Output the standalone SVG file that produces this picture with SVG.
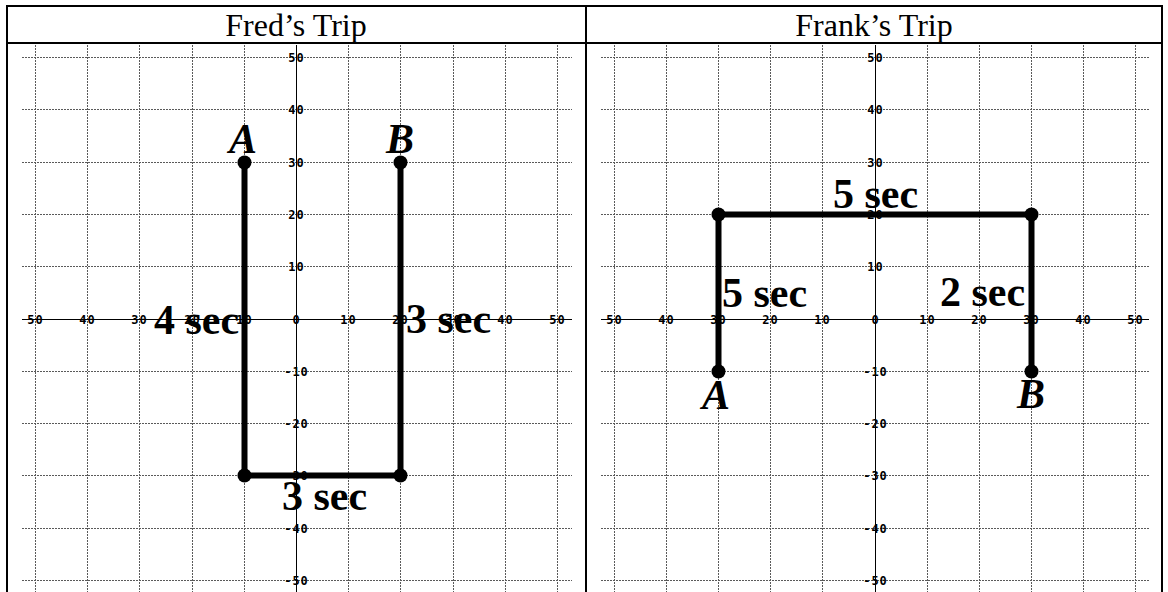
<svg xmlns="http://www.w3.org/2000/svg" width="1168" height="592" viewBox="0 0 1168 592">
<style>
.grid{stroke:#5a5a5a;stroke-width:1;stroke-dasharray:2 1;fill:none}
.axis{stroke:#000;stroke-width:1;fill:none}
.border{stroke:#000;stroke-width:2;fill:none}
.path{stroke:#000;stroke-width:6;fill:none;stroke-linejoin:miter}
.dot{fill:#000}
.tick{font-family:"DejaVu Sans Mono","Liberation Mono",monospace;font-weight:bold;font-size:12px;fill:#000;text-anchor:middle;letter-spacing:1px}
.head{font-family:"Liberation Serif","Times New Roman",serif;font-size:32px;fill:#000;text-anchor:middle}
.sec{font-family:"Liberation Serif","Times New Roman",serif;font-weight:bold;font-size:42px;fill:#000}
.pt{font-family:"Liberation Serif","Times New Roman",serif;font-weight:bold;font-style:italic;font-size:42px;fill:#000;text-anchor:middle}
</style>
<rect width="1168" height="592" fill="#fff"/>
<g id="table">
<line class="border" x1="6" y1="6" x2="1163" y2="6"/>
<line class="border" x1="6" y1="43" x2="1163" y2="43"/>
<line class="border" x1="7" y1="5" x2="7" y2="592"/>
<line class="border" x1="586" y1="5" x2="586" y2="592"/>
<line class="border" x1="1162" y1="5" x2="1162" y2="592"/>
<text class="head" x="296" y="36">Fred’s Trip</text>
<text class="head" x="874" y="36">Frank’s Trip</text>
</g>
<g id="fred-grid">
<g class="grid">
<path d="M35.5 45V592M87.5 45V592M139.5 45V592M192.5 45V592M244.5 45V592M348.5 45V592M400.5 45V592M453.5 45V592M505.5 45V592M557.5 45V592"/>
<path d="M22 57.5H572M22 109.5H572M22 162.5H572M22 214.5H572M22 266.5H572M22 371.5H572M22 423.5H572M22 475.5H572M22 528.5H572M22 580.5H572"/>
</g>
<path class="axis" d="M22 319.5H572M296.5 45V592"/>
<g class="tick">
<text x="35.5" y="324">50</text><text x="87.5" y="324">40</text><text x="139.5" y="324">30</text><text x="192.5" y="324">20</text><text x="244.5" y="324">10</text><text x="296.5" y="324">0</text><text x="348.5" y="324">10</text><text x="400.5" y="324">20</text><text x="453.5" y="324">30</text><text x="505.5" y="324">40</text><text x="557.5" y="324">50</text>
<text x="296.5" y="62">50</text><text x="296.5" y="114">40</text><text x="296.5" y="167">30</text><text x="296.5" y="219">20</text><text x="296.5" y="271">10</text><text x="296.5" y="376">-10</text><text x="296.5" y="428">-20</text><text x="296.5" y="480">-30</text><text x="296.5" y="533">-40</text><text x="296.5" y="585">-50</text>
</g>
</g>
<g id="frank-grid">
<g class="grid">
<path d="M614.5 45V592M666.5 45V592M718.5 45V592M770.5 45V592M822.5 45V592M927.5 45V592M979.5 45V592M1031.5 45V592M1083.5 45V592M1135.5 45V592"/>
<path d="M601 57.5H1149M601 109.5H1149M601 162.5H1149M601 214.5H1149M601 266.5H1149M601 371.5H1149M601 423.5H1149M601 475.5H1149M601 528.5H1149M601 580.5H1149"/>
</g>
<path class="axis" d="M601 319.5H1149M875.5 45V592"/>
<g class="tick">
<text x="614.5" y="324">50</text><text x="666.5" y="324">40</text><text x="718.5" y="324">30</text><text x="770.5" y="324">20</text><text x="822.5" y="324">10</text><text x="875.5" y="324">0</text><text x="927.5" y="324">10</text><text x="979.5" y="324">20</text><text x="1031.5" y="324">30</text><text x="1083.5" y="324">40</text><text x="1135.5" y="324">50</text>
<text x="875.5" y="62">50</text><text x="875.5" y="114">40</text><text x="875.5" y="167">30</text><text x="875.5" y="219">20</text><text x="875.5" y="271">10</text><text x="875.5" y="376">-10</text><text x="875.5" y="428">-20</text><text x="875.5" y="480">-30</text><text x="875.5" y="533">-40</text><text x="875.5" y="585">-50</text>
</g>
</g>
<g id="connectors">
<path class="path" d="M244.5 162.5V475.5H400.5V162.5"/>
<path class="path" d="M718.5 371.5V214.5H1031.5V371.5"/>
</g>
<g id="fred-A"><circle class="dot" cx="244.5" cy="162.5" r="7"/><text class="pt" x="243" y="153">A</text></g>
<g id="fred-B"><circle class="dot" cx="400.5" cy="162.5" r="7"/><text class="pt" x="400" y="153">B</text></g>
<g id="fred-c1"><circle class="dot" cx="244.5" cy="475.5" r="7"/></g>
<g id="fred-c2"><circle class="dot" cx="400.5" cy="475.5" r="7"/></g>
<g id="frank-A"><circle class="dot" cx="718.5" cy="371.5" r="7"/><text class="pt" x="716" y="409">A</text></g>
<g id="frank-B"><circle class="dot" cx="1031.5" cy="371.5" r="7"/><text class="pt" x="1031" y="408">B</text></g>
<g id="frank-c1"><circle class="dot" cx="718.5" cy="214.5" r="7"/></g>
<g id="frank-c2"><circle class="dot" cx="1031.5" cy="214.5" r="7"/></g>
<g id="labels">
<text class="sec" x="154" y="334">4 sec</text>
<text class="sec" x="406" y="333">3 sec</text>
<text class="sec" x="282" y="510">3 sec</text>
<text class="sec" x="833" y="208">5 sec</text>
<text class="sec" x="722" y="307">5 sec</text>
<text class="sec" x="940" y="306">2 sec</text>
</g>
</svg>
